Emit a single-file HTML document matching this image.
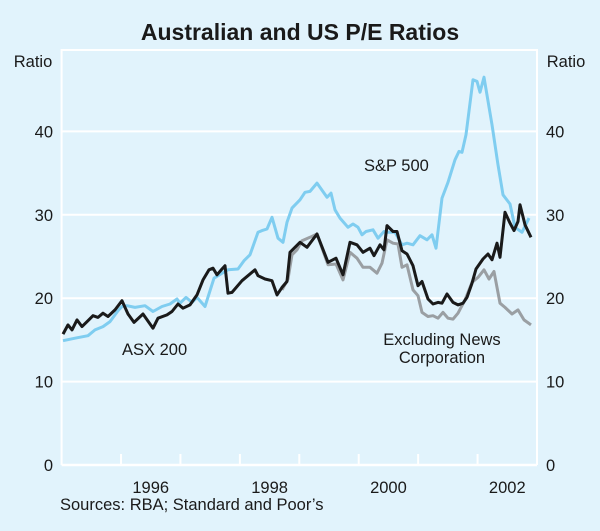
<!DOCTYPE html>
<html><head><meta charset="utf-8"><style>
body{margin:0;background:#E1F3FC;}
svg{display:block;font-family:"Liberation Sans",sans-serif;}
</style></head><body>
<svg id="c" width="600" height="531">
<rect x="0" y="0" width="600" height="531" fill="#E1F3FC"/>
<text x="300" y="40" text-anchor="middle" font-size="23" font-weight="bold" fill="#1a1a1a">Australian and US P/E Ratios</text>
<text x="33" y="67" text-anchor="middle" font-size="16.5" fill="#1a1a1a">Ratio</text>
<text x="566" y="67" text-anchor="middle" font-size="16.5" fill="#1a1a1a">Ratio</text>
<g id="grid"></g><g id="series"></g><g id="labels"></g>
<text x="364" y="171" font-size="16.5" fill="#1a1a1a">S&amp;P 500</text>
<text x="122" y="355" font-size="16.5" fill="#1a1a1a">ASX 200</text>
<text x="442" y="345" text-anchor="middle" font-size="16.5" fill="#1a1a1a">Excluding News</text>
<text x="442" y="363" text-anchor="middle" font-size="16.5" fill="#1a1a1a">Corporation</text>
<text x="60" y="510" font-size="16.5" fill="#1a1a1a">Sources: RBA; Standard and Poor’s</text>
</svg>
<script>
const yTicks=[0,10,20,30,40];
const yearLabels=[1996,1998,2000,2002];
const spX=[63,75,88,95,103,110,118,122,127,135,145,153,162,170,177,180,186,192,197,205,214,222,228,238,244,250,258,262,267,272,278,283,287,292,300,305,310,317,327,331,335,340,348,353,358,362,366,373,378,384,388,395,402,407,413,420,427,432,436,442,448,455,459,462,466,473,477,480,484,492,498,503,510,515,522,529];
const spY=[14.9,15.2,15.5,16.2,16.6,17.2,18.5,19.0,19.1,18.9,19.1,18.4,19.0,19.3,19.9,19.4,20.1,19.5,20.1,19.0,22.4,23.0,23.4,23.5,24.5,25.2,27.9,28.1,28.3,29.7,27.2,26.7,29.1,30.8,31.8,32.7,32.8,33.8,32.1,32.6,30.6,29.6,28.5,28.9,28.5,27.6,28.0,28.2,27.2,28.0,27.9,27.9,26.4,26.6,26.4,27.5,27.0,27.6,26.0,32.0,33.9,36.6,37.6,37.5,39.6,46.2,46.0,44.7,46.5,40.8,36.0,32.4,31.3,28.5,27.9,29.6];
const asxX=[63,68,72,77,82,88,93,98,103,108,115,122,128,134,143,153,158,167,172,178,183,190,197,203,209,213,217,222,225,228,232,242,255,258,265,272,277,282,287,290,300,307,317,328,336,343,350,357,363,370,374,380,384,387,393,397,402,407,413,418,422,428,433,438,442,447,453,458,463,467,472,476,483,488,492,497,500,505,510,514,518,520,525,531];
const asxY=[15.7,16.8,16.2,17.4,16.6,17.3,17.9,17.7,18.2,17.8,18.6,19.7,18.1,17.1,18.1,16.4,17.6,18.0,18.4,19.3,18.8,19.2,20.4,22.2,23.4,23.6,22.8,23.5,23.9,20.6,20.7,22.1,23.4,22.7,22.3,22.1,20.4,21.3,22.0,25.5,26.7,26.1,27.7,24.3,24.8,22.8,26.7,26.4,25.5,26.0,25.1,26.4,25.8,28.7,28.0,28.0,25.7,25.3,23.9,21.5,22.0,19.9,19.3,19.5,19.4,20.5,19.5,19.2,19.4,20.1,21.8,23.5,24.7,25.3,24.6,26.6,24.9,30.3,29.0,28.1,29.2,31.2,28.8,27.3];
const exX=[282,288,292,297,302,310,317,328,336,343,350,357,363,370,377,382,387,393,398,402,407,413,418,422,428,433,438,443,448,453,458,465,472,478,484,489,494,500,505,512,518,524,531];
const exY=[21.0,22.3,25.2,25.8,26.9,27.3,27.7,24.0,24.1,22.2,25.5,24.8,23.7,23.7,23.0,24.2,27.0,26.6,26.5,23.7,24.0,21.0,20.3,18.3,17.8,17.9,17.6,18.3,17.6,17.5,18.2,19.8,21.9,22.5,23.4,22.3,23.2,19.4,18.9,18.1,18.6,17.4,16.8];
const L=61.6,R=537,T=48,B=465;
const yS=v=>B-(B-T)*v/50;
const ns="http://www.w3.org/2000/svg";
function mk(t,a,p){const e=document.createElementNS(ns,t);for(const k in a)e.setAttribute(k,a[k]);p.appendChild(e);return e;}
const g=document.getElementById('grid'),s=document.getElementById('series'),lb=document.getElementById('labels');
for(const v of yTicks){
 const y=yS(v);
 const ln=mk('line',{x1:L,x2:R,y1:y,y2:y,stroke:'#fff','stroke-width':v===0?2.5:2},g);
 
 
 const a=mk('text',{x:53,y:y+6,'text-anchor':'end','font-size':16.5,fill:'#1a1a1a'},lb);a.textContent=v;
 
 
 const b=mk('text',{x:546,y:y+6,'font-size':16.5,fill:'#1a1a1a'},lb);b.textContent=v;
 
 
}
mk('line',{x1:L,x2:R,y1:50,y2:50,stroke:'#fff','stroke-width':2},g);
mk('line',{x1:L,x2:L,y1:49,y2:B,stroke:'#fff','stroke-width':2},g);
mk('line',{x1:R,x2:R,y1:49,y2:B,stroke:'#fff','stroke-width':2},g);
const yw=(R-L)/8;
for(let i=1;i<8;i++){const x=L+i*yw;const t=mk('line',{x1:x,x2:x,y1:B-11,y2:B,stroke:'#fff','stroke-width':2},g);
 
 }
for(const yr of yearLabels){const x=L+(yr-1995+0.5)*yw;const t=mk('text',{x:x,y:B+28,'text-anchor':'middle','font-size':16.5,fill:'#1a1a1a'},lb);t.textContent=yr;
 
 }
function line(xs,ys,col,name){const d=xs.map((x,i)=>(i?'L':'M')+x+','+yS(ys[i]).toFixed(1)).join('');
 const p=mk('path',{d:d,fill:'none',stroke:col,'stroke-width':3,'stroke-linejoin':'round'},s);
 
 }
line(exX,exY,'#9a9fa3','excl-news-line');
line(spX,spY,'#7fcdf0','sp500-line');
line(asxX,asxY,'#1a1a1a','asx200-line');
</script>
</body></html>
